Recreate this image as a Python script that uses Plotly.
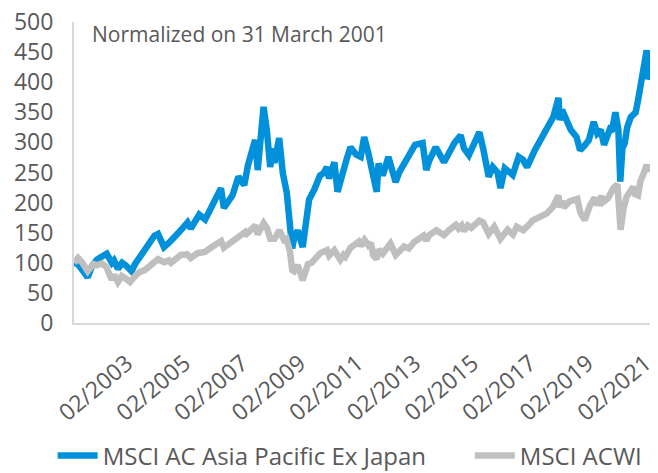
import plotly.graph_objects as go

# MSCI AC Asia Pacific Ex Japan (normalized to 100 on 31 March 2001)
apac_dates = [
    "2001-03-31", "2001-05-15", "2001-07-15", "2001-09-21", "2001-11-15",
    "2002-01-15", "2002-03-15", "2002-05-20", "2002-07-25", "2002-08-20",
    "2002-10-10", "2002-12-01", "2003-01-15", "2003-03-31", "2003-05-15",
    "2003-07-20", "2003-09-15", "2003-11-15", "2004-01-15", "2004-03-01",
    "2004-05-15", "2004-07-15", "2004-09-15", "2004-11-15", "2005-01-10",
    "2005-03-10", "2005-04-20", "2005-06-15", "2005-08-05", "2005-10-20",
    "2005-12-30", "2006-02-15", "2006-05-08", "2006-06-13", "2006-08-15",
    "2006-10-01", "2006-12-15", "2007-02-27", "2007-04-15", "2007-07-15",
    "2007-08-17", "2007-10-30", "2007-12-10", "2008-01-22", "2008-02-28",
    "2008-03-17", "2008-05-15", "2008-06-30", "2008-08-20", "2008-09-30",
    "2008-10-27", "2008-11-20", "2009-01-06", "2009-03-09", "2009-04-30",
    "2009-05-30", "2009-08-01", "2009-10-15", "2009-11-30", "2010-01-11",
    "2010-02-05", "2010-04-15", "2010-05-25", "2010-07-15", "2010-09-15",
    "2010-11-05", "2011-01-15", "2011-03-15", "2011-04-28", "2011-06-20",
    "2011-08-08", "2011-10-04", "2011-10-28", "2011-12-19", "2012-02-29",
    "2012-05-31", "2012-07-15", "2012-09-15", "2012-12-31", "2013-02-01",
    "2013-05-08", "2013-06-24", "2013-08-01", "2013-10-22", "2014-02-04",
    "2014-04-15", "2014-06-15", "2014-09-03", "2014-10-15", "2014-12-16",
    "2015-02-15", "2015-04-28", "2015-06-15", "2015-07-08", "2015-08-24",
    "2015-10-15", "2015-12-15", "2016-01-21", "2016-03-15", "2016-06-24",
    "2016-09-07", "2016-11-01", "2016-12-23", "2017-03-31", "2017-06-15",
    "2017-08-15", "2017-11-20", "2018-01-26", "2018-02-09", "2018-03-12",
    "2018-04-15", "2018-06-30", "2018-09-11", "2018-10-26", "2018-12-24",
    "2019-02-15", "2019-04-17", "2019-05-31", "2019-07-15", "2019-08-26",
    "2019-11-05", "2019-12-01", "2020-01-17", "2020-02-24", "2020-03-19",
    "2020-04-15", "2020-05-15", "2020-06-15", "2020-07-30", "2020-09-30",
    "2020-10-30", "2020-12-15", "2021-01-15", "2021-02-17", "2021-03-08",
    "2021-03-31",
]
apac_values = [
    100, 98, 88, 76, 95,
    105, 110, 115, 100, 104,
    90, 100, 96, 86, 98,
    110, 120, 130, 145, 148,
    126, 133, 140, 150, 158,
    167, 157, 168, 180, 172,
    190, 200, 224, 191, 205,
    212, 243, 229, 262, 304,
    254, 359, 321, 259, 290,
    266, 307, 249, 216, 165,
    124, 140, 154, 126, 175,
    205, 221, 245, 249, 259,
    240, 267, 218, 245, 271,
    292, 280, 276, 309, 282,
    250, 218, 265, 245, 276,
    234, 250, 266, 292, 296,
    299, 254, 270, 292, 267,
    285, 299, 312, 290, 279,
    299, 317, 290, 271, 243,
    259, 250, 224, 257, 246,
    276, 271, 259, 287, 305,
    321, 342, 374, 337, 354,
    345, 321, 309, 287, 295,
    304, 334, 315, 321, 296,
    321, 318, 350, 321, 235,
    290, 299, 325, 342, 350,
    370, 400, 420, 453, 405,
    412,
]

# MSCI ACWI (normalized to 100 on 31 March 2001)
acwi_dates = [
    "2001-03-31", "2001-05-21", "2001-07-15", "2001-09-21", "2001-12-05",
    "2002-01-15", "2002-03-19", "2002-05-15", "2002-07-23", "2002-08-22",
    "2002-10-09", "2002-11-27", "2003-01-15", "2003-03-11", "2003-05-15",
    "2003-07-15", "2003-09-15", "2003-12-15", "2004-03-01", "2004-05-15",
    "2004-07-15", "2004-08-12", "2004-10-15", "2004-12-15", "2005-03-05",
    "2005-04-20", "2005-07-15", "2005-10-15", "2005-12-30", "2006-03-01",
    "2006-05-10", "2006-06-13", "2006-09-01", "2006-11-30", "2007-02-26",
    "2007-03-05", "2007-05-31", "2007-07-20", "2007-08-16", "2007-10-31",
    "2007-12-15", "2008-01-22", "2008-03-17", "2008-05-19", "2008-07-15",
    "2008-08-15", "2008-09-30", "2008-10-27", "2008-11-20", "2009-01-06",
    "2009-03-09", "2009-05-15", "2009-06-30", "2009-09-15", "2009-10-20",
    "2010-01-11", "2010-02-08", "2010-04-15", "2010-06-30", "2010-08-09",
    "2010-09-01", "2010-11-05", "2011-01-15", "2011-02-18", "2011-03-16",
    "2011-05-02", "2011-06-20", "2011-07-25", "2011-08-19", "2011-10-04",
    "2011-10-28", "2011-12-19", "2012-03-26", "2012-06-01", "2012-09-15",
    "2012-11-15", "2013-01-25", "2013-05-21", "2013-06-24", "2013-08-01",
    "2013-10-30", "2014-02-03", "2014-04-15", "2014-07-03", "2014-08-07",
    "2014-09-15", "2014-10-15", "2014-12-01", "2015-01-15", "2015-04-28",
    "2015-06-15", "2015-08-24", "2015-11-03", "2016-01-20", "2016-04-20",
    "2016-06-27", "2016-08-15", "2016-11-04", "2017-01-15", "2017-03-01",
    "2017-06-15", "2017-09-01", "2017-11-15", "2018-01-26", "2018-02-08",
    "2018-03-12", "2018-04-02", "2018-06-15", "2018-09-21", "2018-10-29",
    "2018-12-24", "2019-02-28", "2019-04-30", "2019-06-03", "2019-07-26",
    "2019-08-15", "2019-10-15", "2019-12-27", "2020-02-12", "2020-03-23",
    "2020-04-29", "2020-06-08", "2020-08-31", "2020-09-23", "2020-10-30",
    "2020-11-30", "2021-01-15", "2021-02-16", "2021-03-04", "2021-03-31",
]
acwi_values = [
    100, 108, 100, 86, 98,
    96, 99, 93, 72, 80,
    68, 78, 74, 68, 78,
    85, 88, 96, 106, 101,
    104, 100, 106, 113, 114,
    108, 116, 118, 125, 130,
    136, 125, 133, 143, 150,
    145, 157, 162, 147, 166,
    157, 140, 140, 154, 138,
    140, 118, 88, 86, 96,
    71, 98, 100, 112, 116,
    121, 112, 121, 105, 113,
    110, 125, 130, 135, 128,
    138, 129, 133, 113, 106,
    122, 115, 132, 113, 127,
    124, 135, 145, 137, 146,
    154, 146, 155, 163, 157,
    162, 153, 162, 158, 170,
    167, 148, 160, 140, 155,
    147, 160, 154, 163, 170,
    177, 182, 193, 212, 192,
    203, 192, 202, 206, 184,
    171, 195, 208, 196, 211,
    201, 207, 225, 230, 155,
    190, 210, 226, 214, 212,
    236, 250, 263, 252, 263,
]

tick_dates = ["2003-02-01", "2005-02-01", "2007-02-01", "2009-02-01", "2011-02-01",
              "2013-02-01", "2015-02-01", "2017-02-01", "2019-02-01", "2021-02-01"]

TEXT = "#595959"
AXIS = "#d9d9d9"
FONT = "Open Sans"

fig = go.Figure()

fig.add_trace(go.Scatter(
    x=apac_dates,
    y=apac_values,
    mode='lines',
    name="MSCI AC Asia Pacific Ex Japan",
    line=dict(color="#0091DA", width=6.5),
    legend='legend',
))

fig.add_trace(go.Scatter(
    x=acwi_dates,
    y=acwi_values,
    mode='lines',
    name="MSCI ACWI",
    line=dict(color="#BFBFBF", width=6.5),
    legend='legend2',
))

fig.add_annotation(
    text="Normalized on 31 March 2001",
    xref='paper', yref='paper',
    x=0.027, y=1.014,
    xanchor='left', yanchor='top',
    showarrow=False,
    font=dict(family=FONT, size=21, color=TEXT),
)

# one legend per series so each entry can sit where the reference puts it
legend_style = dict(
    orientation='h',
    xref='container',
    yref='container',
    xanchor='left',
    y=0.036,
    yanchor='middle',
    font=dict(family=FONT, size=24, color=TEXT),
    itemwidth=40,
    bgcolor='rgba(0,0,0,0)',
)

fig.update_layout(
    width=658,
    height=473,
    margin=dict(l=74, r=1, t=22, b=150),
    plot_bgcolor='white',
    paper_bgcolor='white',
    font=dict(family=FONT, size=23, color=TEXT),
    showlegend=True,
    xaxis=dict(
        type='date',
        range=["2001-03-31", "2021-03-31"],
        tickvals=tick_dates,
        tickformat="%m/%Y",
        tickangle=-40,
        showgrid=False,
        zeroline=False,
        showline=True,
        linecolor=AXIS,
        linewidth=2,
        ticks='',
        ticklabelstandoff=16,
        ticklabeloverflow='allow',
        tickfont=dict(family=FONT, size=23, color=TEXT),
    ),
    yaxis=dict(
        range=[0, 500],
        tickvals=[0, 50, 100, 150, 200, 250, 300, 350, 400, 450, 500],
        showgrid=False,
        zeroline=False,
        showline=True,
        linecolor=AXIS,
        linewidth=2,
        ticks='',
        ticklabelstandoff=14,
        ticklabeloverflow='allow',
        tickfont=dict(family=FONT, size=23, color=TEXT),
    ),
    legend=dict(legend_style, x=0.08),
    legend2=dict(legend_style, x=0.714),
)

# drop the default 8px page margin so the figure sits flush in the window
fig.write_html("out.html",
               config={'displayModeBar': False},
               post_script="document.body.style.margin='0';document.body.style.overflow='hidden';")
